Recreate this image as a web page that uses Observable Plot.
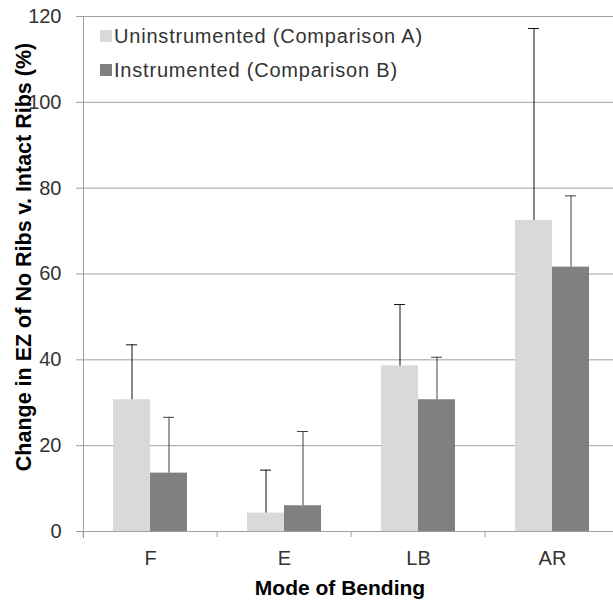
<!DOCTYPE html>
<html><head><meta charset="utf-8">
<script src="https://cdn.jsdelivr.net/npm/d3@7"></script>
<script src="https://cdn.jsdelivr.net/npm/@observablehq/plot@0.6"></script>
<style>
html,body{margin:0;padding:0;overflow:hidden;background:#fff;}
#wrap{position:relative;width:613px;height:604px;font-family:"Liberation Sans",Arial,sans-serif;color:#333;}
#wrap svg{position:absolute;left:0;top:0;}
.legend{position:absolute;left:100px;top:19px;font-size:20px;line-height:34px;letter-spacing:0.8px;}
.legend .item{display:flex;align-items:center;white-space:nowrap;}
.legend .sw{width:12px;height:12px;margin-right:2px;display:inline-block;}
.xtitle{position:absolute;left:340px;top:588px;width:max-content;transform:translate(-50%,-50%);font-weight:bold;font-size:21px;white-space:nowrap;color:#000;}
</style></head><body><div id="wrap"></div>
<script>
const categories = ["F", "E", "LB", "AR"];
const seriesNames = ["Uninstrumented (Comparison A)", "Instrumented (Comparison B)"];
const uninstrumented = [30.7, 4.3, 38.6, 72.5];
const uninstrumentedUpper = [43.5, 14.3, 52.9, 117.2];
const instrumented = [13.6, 6.0, 30.7, 61.6];
const instrumentedUpper = [26.6, 23.3, 40.6, 78.2];
const yTicks = [0, 20, 40, 60, 80, 100, 120];
const barColors = ["#d9d9d9", "#808080"];
const errColors = ["#111111", "#404040"];
const xTitle = "Mode of Bending";
const yTitle = "Change in EZ of No Ribs v. Intact Ribs (%)";

const rows = categories.flatMap((c, i) => [
  {category: c, series: seriesNames[0], value: uninstrumented[i], upper: uninstrumentedUpper[i]},
  {category: c, series: seriesNames[1], value: instrumented[i], upper: instrumentedUpper[i]}
]);

const W = 613, H = 604, mL = 81, mR = -7, mT = 16, mB = 73;
const step = (W - mL - mR) / categories.length;
const grid = "#a0a0a0";

const chart = Plot.plot({
  width: W, height: H, marginLeft: mL, marginRight: mR, marginTop: mT, marginBottom: mB,
  style: {fontFamily: "Liberation Sans, Arial, sans-serif", background: "transparent", overflow: "visible"},
  fx: {domain: categories, padding: 0, label: null},
  x: {domain: seriesNames, paddingInner: 0, paddingOuter: 0.773, axis: null},
  y: {domain: [0, 120], label: null},
  color: {domain: seriesNames, range: barColors},
  marks: [
    Plot.ruleY(yTicks, {stroke: grid, strokeWidth: 1}),
    Plot.barY(rows, {fx: "category", x: "series", y: "value", fill: "series"}),
    ...seriesNames.map((s, k) => Plot.ruleX(rows.filter(d => d.series === s), {fx: "category", x: "series", y1: "value", y2: "upper", stroke: errColors[k], strokeWidth: 1})),
    ...seriesNames.map((s, k) => Plot.tickY(rows.filter(d => d.series === s), {fx: "category", x: "series", y: "upper", insetLeft: 13, insetRight: 13, stroke: errColors[k], strokeWidth: 1})),
    Plot.axisY({ticks: yTicks, tickSize: 7, stroke: grid, fontSize: 20, fill: "#333", tickPadding: 15, label: null}),
    Plot.axisFx({anchor: "bottom", tickSize: 0, fontSize: 20, fill: "#333", tickPadding: 19, label: null}),
    Plot.axisFx({anchor: "bottom", tickSize: 6, text: null, dx: -step / 2, stroke: grid, label: null}),
    Plot.frame({anchor: "left", facetAnchor: "left", stroke: grid, insetBottom: -6})
  ]
});

const wrap = document.getElementById("wrap");
wrap.appendChild(chart);

d3.select(chart).append("text")
  .attr("transform", "translate(23,257) rotate(-90)")
  .attr("text-anchor", "middle")
  .attr("dy", "0.35em")
  .attr("font-family", "Liberation Sans, Arial, sans-serif")
  .attr("font-size", 21.5)
  .attr("font-weight", "bold")
  .attr("fill", "#000")
  .text(yTitle);

const legend = document.createElement("div");
legend.className = "legend";
seriesNames.forEach((s, k) => {
  const it = document.createElement("div");
  it.className = "item";
  const sw = document.createElement("span");
  sw.className = "sw";
  sw.style.background = barColors[k];
  const tx = document.createElement("span");
  tx.textContent = s;
  it.appendChild(sw); it.appendChild(tx);
  legend.appendChild(it);
});
wrap.appendChild(legend);

const xt = document.createElement("div");
xt.className = "xtitle"; xt.textContent = xTitle;
wrap.appendChild(xt);
</script>
</body></html>
